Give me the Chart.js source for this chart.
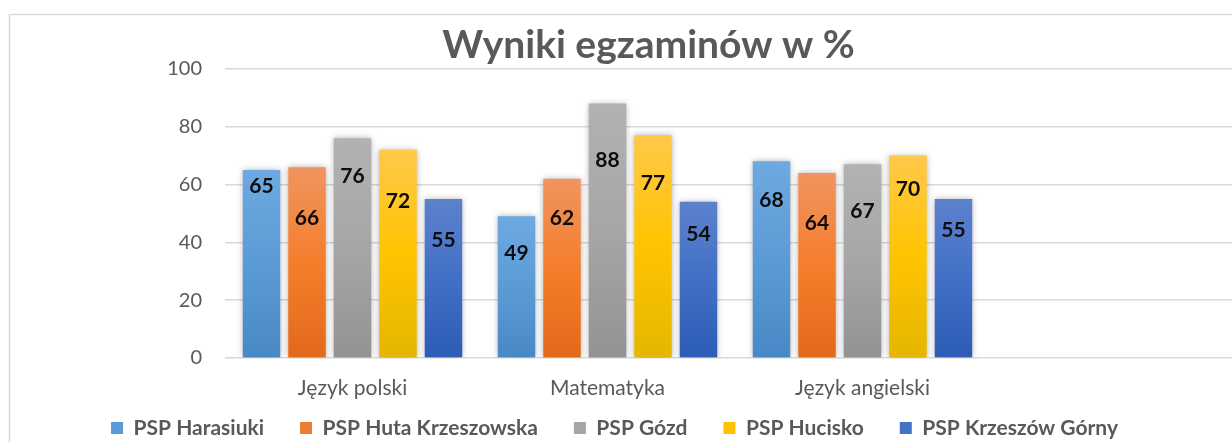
<!DOCTYPE html>
<html><head><meta charset="utf-8">
<script src="https://cdn.jsdelivr.net/npm/chart.js@4"></script>
<style>
html,body{margin:0;padding:0;overflow:hidden;background:#fff;width:1232px;height:442px}
#wrap{position:relative;width:1262px;height:442px}
</style></head>
<body><div id="wrap"><canvas id="c"></canvas></div>
<script>
// ---- data ----
const categories = ['Język polski', 'Matematyka', 'Język angielski', ''];
const seriesNames = ['PSP Harasiuki', 'PSP Huta Krzeszowska', 'PSP Gózd', 'PSP Hucisko', 'PSP Krzeszów Górny'];
const harasiuki = [65, 49, 68];
const hutaKrzeszowska = [66, 62, 64];
const gozd = [76, 88, 67];
const hucisko = [72, 77, 70];
const krzeszowGorny = [55, 54, 55];
const yTicks = [0, 20, 40, 60, 80, 100];
const chartTitle = 'Wyniki egzaminów w %';

// ---- styles ----
const baseColors = ['#5B9BD5', '#ED7D31', '#A5A5A5', '#FFC000', '#4472C4'];
const gradStops = [
  ['#6EA9E1', '#5B9BD5', '#4888C6'],
  ['#F1945F', '#F47E2C', '#E3691A'],
  ['#B2B2B2', '#A6A6A6', '#939393'],
  ['#FFC94A', '#FFC400', '#E5B600'],
  ['#5C81CD', '#4270C6', '#2D5CB7']
];
// vertical drop (px) of each value label below its bar top
const labelDrop = [[16, 37, 39], [51, 40, 50], [38, 57, 47], [51, 48, 34], [41, 32, 31]];
const TEXT = '#595959';
const FONT = 'Lato';
const LEGEND_PAD = 36;
const LEGEND_FONT = 21;

const seriesValues = [harasiuki, hutaKrzeszowska, gozd, hucisko, krzeszowGorny];

function barGradient(ctx, si) {
  const chart = ctx.chart;
  if (!chart.chartArea || ctx.type !== 'data') return baseColors[si];
  const y = chart.scales.y;
  const top = y.getPixelForValue(ctx.raw);
  const bot = y.getPixelForValue(0);
  if (!isFinite(top) || !isFinite(bot) || top === bot) return baseColors[si];
  const g = chart.ctx.createLinearGradient(0, top, 0, bot);
  g.addColorStop(0, gradStops[si][0]);
  g.addColorStop(0.5, gradStops[si][1]);
  g.addColorStop(1, gradStops[si][2]);
  return g;
}

const decor = {
  id: 'decor',
  beforeDraw(chart) {
    const c = chart.ctx;
    c.save();
    c.strokeStyle = '#d9d9d9';
    c.lineWidth = 1.5;
    c.strokeRect(9.5, 14.5, 3000, 3000);
    c.restore();
  },
  beforeLayout(chart) {
    const l = chart.legend;
    if (l && !l._fixed) {
      const f = l.fit.bind(l);
      l.fit = function () { f(); this.height = 42; };
      l._fixed = true;
    }
  },
  afterLayout(chart) {
    const t = chart.titleBlock;
    if (t) { t.left += 26; t.right += 26; }
    const l = chart.legend;
    if (l) {
      l.left -= 8; l.right -= 8;
      l.top = 428 - LEGEND_PAD - LEGEND_FONT / 2;
      l.bottom = chart.height;
    }
  },
  beforeDatasetsDraw(chart) {
    const c = chart.ctx;
    c.save();
    c.shadowColor = 'rgba(0,0,0,0.30)';
    c.shadowBlur = 6;
    c.shadowOffsetX = 0;
    c.shadowOffsetY = 0;
  },
  afterDatasetsDraw(chart) {
    const c = chart.ctx;
    c.restore();
    c.save();
    c.font = 'bold 21px ' + FONT;
    c.fillStyle = '#0D0D0D';
    c.textAlign = 'center';
    c.textBaseline = 'middle';
    chart.data.datasets.forEach((ds, si) => {
      const meta = chart.getDatasetMeta(si);
      meta.data.forEach((bar, i) => {
        if (ds.data[i] == null) return;
        c.fillText(String(ds.data[i]), bar.x, bar.y + labelDrop[si][i]);
      });
    });
    c.restore();
  }
};

new Chart(document.getElementById('c'), {
  type: 'bar',
  data: {
    labels: categories,
    datasets: seriesNames.map((name, si) => ({
      label: name,
      data: seriesValues[si],
      backgroundColor: (ctx) => barGradient(ctx, si),
      borderWidth: 0,
      categoryPercentage: 0.892,
      barPercentage: 0.824
    }))
  },
  options: {
    responsive: true,
    maintainAspectRatio: false,
    animation: false,
    layout: { padding: { left: 0, right: 17, top: 0, bottom: 0 } },
    plugins: {
      tooltip: { enabled: false },
      title: {
        display: true,
        text: chartTitle,
        color: TEXT,
        font: { family: FONT, size: 39, weight: 'bold' },
        padding: { top: 22, bottom: 0 }
      },
      legend: {
        position: 'bottom',
        labels: {
          color: TEXT,
          font: { family: FONT, size: LEGEND_FONT, weight: 'bold' },
          boxWidth: 12,
          boxHeight: 12,
          padding: LEGEND_PAD,
          generateLabels(chart) {
            return Chart.defaults.plugins.legend.labels.generateLabels(chart).map((it, i) => {
              it.fillStyle = baseColors[i];
              it.strokeStyle = baseColors[i];
              it.lineWidth = 0;
              return it;
            });
          }
        }
      }
    },
    scales: {
      x: {
        afterFit(scale) { scale.height = 42; },
        grid: { display: false, drawTicks: false },
        border: { display: false },
        ticks: { color: TEXT, font: { family: FONT, size: 21 }, padding: 18 }
      },
      y: {
        min: 0,
        max: 100,
        afterBuildTicks(scale) { scale.ticks = yTicks.map(v => ({ value: v })); },
        afterFit(scale) { scale.width = 225; },
        grid: { color: '#d9d9d9', lineWidth: 1.5, drawTicks: false },
        border: { display: false },
        ticks: { color: TEXT, font: { family: FONT, size: 20 }, padding: 23 }
      }
    }
  },
  plugins: [decor]
});
</script>
</body></html>
